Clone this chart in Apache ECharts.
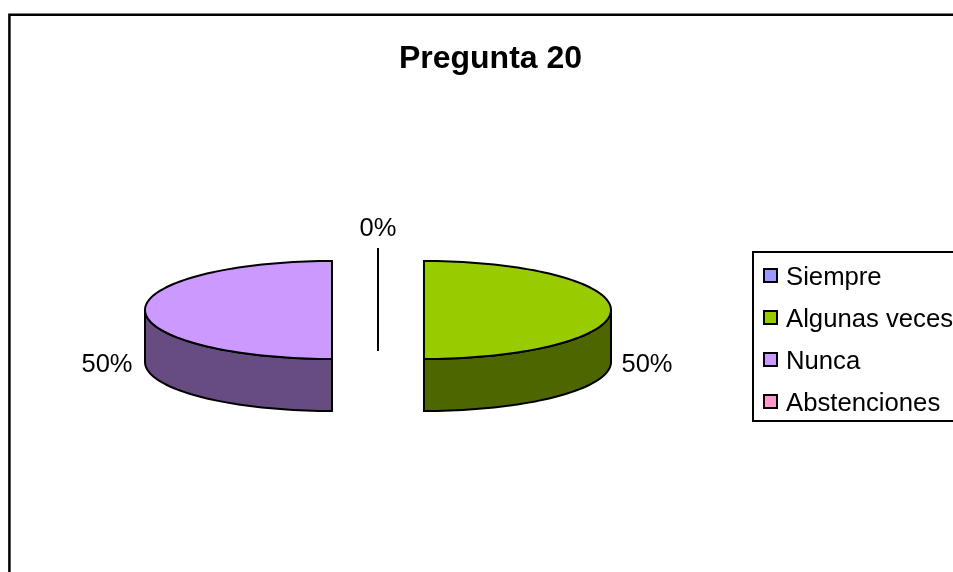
<!DOCTYPE html>
<html>
<head>
<meta charset="utf-8">
<style>html,body{margin:0;padding:0;background:#fff}#c{width:953px;height:572px}</style>
<script src="https://cdn.jsdelivr.net/npm/echarts@6/dist/echarts.min.js"></script>
</head>
<body>
<div id="c"></div>
<script>
var titleText = 'Pregunta 20';
var categories = ['Siempre', 'Algunas veces', 'Nunca', 'Abstenciones'];
var values = [0, 50, 50, 0];
var topColors = ['#9999FF', '#99CC00', '#CC99FF', '#FF99CC'];
var sideColors = ['#4D4D80', '#4D6600', '#664C80', '#804D66'];

var FONT = '"Liberation Sans", Arial, sans-serif';
var pie = {cx: 378, cy: 310, rx: 187, ry: 49, depth: 52, explode: 46};
var total = values.reduce(function (a, b) { return a + b; }, 0);

function slicePoint(c, a, dy) {
  return [c.x + pie.rx * Math.sin(a), c.y - pie.ry * Math.cos(a) + (dy || 0)];
}
function arcPoints(c, a0, a1, dy) {
  var n = Math.max(1, Math.ceil(Math.abs(a1 - a0) / (Math.PI / 90)));
  var pts = [];
  for (var i = 0; i <= n; i++) pts.push(slicePoint(c, a0 + (a1 - a0) * i / n, dy));
  return pts;
}
function renderSlice(index) {
  return function () {
    var before = 0;
    for (var i = 0; i < index; i++) before += values[i];
    var a0 = before / total * 2 * Math.PI;
    var a1 = (before + values[index]) / total * 2 * Math.PI;
    var m = (a0 + a1) / 2;
    var c = {
      x: pie.cx + pie.explode * Math.sin(m),
      y: pie.cy - pie.explode * pie.ry / pie.rx * Math.cos(m)
    };
    var line = {stroke: '#000', lineWidth: 2, lineJoin: 'round'};
    function poly(pts, fill) {
      return {type: 'polygon', shape: {points: pts}, style: Object.assign({fill: fill}, line)};
    }
    function cutFace(a) {
      var p = slicePoint(c, a);
      return poly([[c.x, c.y], p, [p[0], p[1] + pie.depth], [c.x, c.y + pie.depth]], sideColors[index]);
    }
    var children = [cutFace(a0), cutFace(a1)];
    var w0 = Math.max(a0, Math.PI / 2), w1 = Math.min(a1, Math.PI * 1.5);
    if (w1 > w0) {
      children.push(poly(arcPoints(c, w0, w1).concat(arcPoints(c, w1, w0, pie.depth)), sideColors[index]));
    }
    children.push(poly([[c.x, c.y]].concat(arcPoints(c, a0, a1)), topColors[index]));

    // A zero share at the end of the circle lands exactly on the one at the start: one label is shown.
    var duplicate = values[index] === 0 && a0 >= 2 * Math.PI - 1e-9 && values[0] === 0;
    if (!duplicate) {
      var s = Math.sin(m);
      children.push({
        type: 'text',
        style: {
          x: c.x + (pie.rx + 36) * s + (s < 0 ? -2 : 0),
          y: c.y - (pie.ry + 20) * Math.cos(m) + 55 * Math.abs(s),
          text: Math.round(values[index] / total * 100) + '%',
          font: '25.5px ' + FONT,
          fill: '#000',
          align: 'center',
          verticalAlign: 'middle'
        }
      });
    }
    return {type: 'group', children: children};
  };
}

var drawOrder = [0, 3, 1, 2];
var series = categories.map(function (name, i) {
  return {
    type: 'custom',
    name: name,
    coordinateSystem: 'none',
    silent: true,
    animation: false,
    z: 2 + drawOrder.indexOf(i),
    itemStyle: {color: topColors[i]},
    data: [values[i]],
    renderItem: renderSlice(i)
  };
});

var chart = echarts.init(document.getElementById('c'), null, {renderer: 'canvas'});
chart.setOption({
  animation: false,
  backgroundColor: '#fff',
  title: {
    text: titleText,
    left: 485.5,
    top: 38,
    textAlign: 'center',
    textStyle: {fontFamily: FONT, fontSize: 32, fontWeight: 'bold', color: '#000'}
  },
  legend: {
    show: true,
    orient: 'vertical',
    left: 753,
    top: 252,
    padding: [13, 60, 4, 10],
    itemGap: 16,
    itemWidth: 13,
    itemHeight: 13,
    icon: 'rect',
    selectedMode: false,
    backgroundColor: '#fff',
    borderColor: '#000',
    borderWidth: 2,
    itemStyle: {borderColor: '#000', borderWidth: 2},
    formatter: '{a|{name}}',
    textStyle: {
      fontFamily: FONT, fontSize: 25.7, color: '#000',
      rich: {a: {fontFamily: FONT, fontSize: 25.7, color: '#000', padding: [5, 0, 0, 4]}}
    },
    data: categories
  },
  graphic: [{
    type: 'rect',
    silent: true,
    z: 0,
    shape: {x: 9.4, y: 14.8, width: 1100, height: 800},
    style: {fill: 'none', stroke: '#000', lineWidth: 2.5}
  }],
  series: series
});
</script>
</body>
</html>
